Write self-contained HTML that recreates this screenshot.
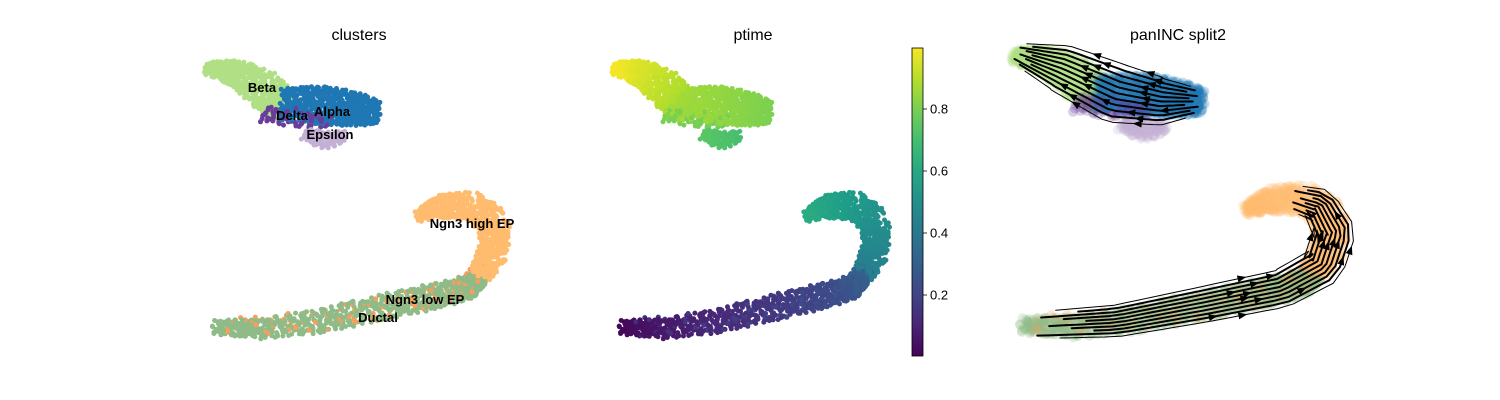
<!DOCTYPE html>
<html><head><meta charset="utf-8"><style>
body{margin:0;background:#fff;}
svg{display:block;font-family:"Liberation Sans","DejaVu Sans",sans-serif;}
</style></head><body>
<svg id="chart" width="1500" height="400" viewBox="0 0 1500 400">
<text x="359" y="40" font-size="16" text-anchor="middle">clusters</text>
<text x="753" y="40" font-size="16" text-anchor="middle">ptime</text>
<text x="1178" y="40" font-size="16" text-anchor="middle">panINC split2</text>
<g id="p1"></g>
<g id="p2"></g>
<g id="p3"></g>
<g id="cbar"></g>
</svg>
<script>
// ---- data: cluster names, colors, spine nodes [x,y,halfwidth] in embedding units, point counts, ptime ranges
const clusterNames = ["Ductal","Ngn3 low EP","Ngn3 high EP","Beta","Alpha","Delta","Epsilon"];
const clusterColors = ["#8fbb88","#f4a05c","#ffbb6e","#b0df85","#1f77b4","#6a3d9a","#c5b0d5"];
const spineDuctal = [[214,327,7],[260,329,10],[320,321,12],[380,308,13],[430,297,13],[465,289,12],[482,278,8]];
const spineLowEP = [[220,327,9],[320,321,11],[400,305,12],[455,291,11],[476,278,11],[486,266,8]];
const spineHighEP = [[418,216,5],[440,207,12],[470,205,14],[494,222,16],[494,250,15],[480,275,12]];
const spineBeta = [[207,68,6],[238,74,14],[268,92,20],[288,112,14]];
const spineAlpha = [[282,104,16],[318,105,19],[348,108,18],[378,113,12]];
const spineDelta = [[262,114,8],[298,118,10],[330,122,6]];
const spineEpsilon = [[305,134,6],[325,141,9],[345,136,5]];
const pointCounts = [700,170,600,550,600,80,110];
const ptimeStart = [0.02,0.12,0.62,0.99,0.86,0.80,0.74];
const ptimeEnd = [0.30,0.35,0.42,0.84,0.80,0.78,0.70];
const cbarTicks = [0.2,0.4,0.6,0.8];
const spines = [spineDuctal,spineLowEP,spineHighEP,spineBeta,spineAlpha,spineDelta,spineEpsilon];
const labelPos = [[378,317],[425,299],[472,223],[262,87],[332,111],[292,115],[330,134]];
// streamline backbones for velocity panel
const streamBottom = [[213,328,13],[300,323,16],[380,307,18],[450,292,19],[488,270,20],[498,238,20],[485,212,17],[455,203,12]];
const streamTop = [[205,64,9],[250,80,24],[300,104,30],[340,112,24],[378,112,12]];

// ---- axis functions per panel
const px = [x=>x, x=>608+(x-200)*0.91, x=>1012+(x-205)*1.1];
const py = [y=>y, y=>y, y=>y*1.04-15];
const NS="http://www.w3.org/2000/svg";
function mk(t,a,p){const e=document.createElementNS(NS,t);for(const k in a)e.setAttribute(k,a[k]);p.appendChild(e);return e;}
function halton(i,b){let f=1,r=0;while(i>0){f/=b;r+=f*(i%b);i=Math.floor(i/b);}return r;}
function spineAt(sp,t){const n=sp.length-1;let u=t*n;let i=Math.min(Math.floor(u),n-1);let f=u-i;
 const a=sp[i],b=sp[i+1];const x=a[0]+(b[0]-a[0])*f,y=a[1]+(b[1]-a[1])*f,w=a[2]+(b[2]-a[2])*f;
 let dx=b[0]-a[0],dy=b[1]-a[1];const L=Math.hypot(dx,dy)||1;return {x,y,w,nx:-dy/L,ny:dx/L,tx:dx/L,ty:dy/L};}
const vir=[[68,1,84],[72,40,120],[62,74,137],[49,104,142],[38,130,142],[31,158,137],[53,183,121],[109,205,89],[180,222,44],[253,231,37]];
function viridis(v){v=Math.max(0,Math.min(1,v));const u=v*(vir.length-1);const i=Math.min(Math.floor(u),vir.length-2);const f=u-i;
 const c=vir[i].map((a,k)=>Math.round(a+(vir[i+1][k]-a)*f));return `rgb(${c[0]},${c[1]},${c[2]})`;}

// generate points
const pts=[];let idx=0;
spines.forEach((sp,ci)=>{for(let i=1;i<=pointCounts[ci];i++){idx++;const t=halton(i,2),s=halton(i,3)*2-1,j=halton(i,5)*2-1;
 const q=spineAt(sp,t);const x=q.x+q.nx*s*q.w+q.tx*j*4,y=q.y+q.ny*s*q.w+q.ty*j*4;
 pts.push({x,y,ci,pt:ptimeStart[ci]+(ptimeEnd[ci]-ptimeStart[ci])*t,key:(ci<=1?halton(idx,7):(ci===5?4.6-halton(idx,7)*1.4:ci))});}});
pts.sort((a,b)=>a.key-b.key);

const g1=document.getElementById('p1'),g2=document.getElementById('p2'),g3=document.getElementById('p3');
pts.forEach(p=>{
 const c3=mk('circle',{cx:px[2](p.x).toFixed(1),cy:py[2](p.y).toFixed(1),r:5,fill:clusterColors[p.ci],'fill-opacity':0.25},g3);
 
 
});
pts.forEach(p=>{
 const c1=mk('circle',{cx:px[0](p.x).toFixed(1),cy:py[0](p.y).toFixed(1),r:2.5,fill:clusterColors[p.ci]},g1);
 
 
});
pts.slice().sort((a,b)=>halton(Math.round(a.x*13+a.y*7),3)-halton(Math.round(b.x*13+b.y*7),3)).forEach(p=>{
 const c2=mk('circle',{cx:px[1](p.x).toFixed(1),cy:py[1](p.y).toFixed(1),r:2.5,fill:viridis(p.pt)},g2);
 
 
});
// cluster labels
clusterNames.forEach((n,i)=>{const t=mk('text',{x:labelPos[i][0],y:labelPos[i][1]+5,'font-size':13,'font-weight':'bold','text-anchor':'middle',fill:'#000'},g1);
 t.textContent=n;
 
 });

// streamlines
function streams(sp,nLines,dir){for(let k=0;k<nLines;k++){const off=-0.95+1.9*k/(nLines-1);let d='';const N=40;
 const t0=0.02+0.1*halton(k+1,3),t1=0.98-0.1*halton(k+1,2);
 const P=[];for(let i=0;i<=N;i++){const t=t0+(t1-t0)*i/N;const q=spineAt(sp,t);const x=q.x+q.nx*off*q.w,y=q.y+q.ny*off*q.w;P.push([px[2](x),py[2](y)]);
 d+=(i?'L':'M')+P[i][0].toFixed(1)+','+P[i][1].toFixed(1);}
 const l=mk('path',{d,fill:'none',stroke:'#000','stroke-width':(Math.abs(off)>0.85?1:2),'stroke-linecap':'round'},g3);
 
 
 for(const fr of [0.3,0.65]){const m=Math.floor(N*(fr+0.15*halton(k+2,5)));const a=P[m],b=P[m+dir];const ang=Math.atan2(b[1]-a[1],b[0]-a[0]);
 const ax=a[0],ay=a[1];const h=`${ax+6*Math.cos(ang)},${ay+6*Math.sin(ang)} ${ax-3*Math.cos(ang)+3.5*Math.sin(ang)},${ay-3*Math.sin(ang)-3.5*Math.cos(ang)} ${ax-3*Math.cos(ang)-3.5*Math.sin(ang)},${ay-3*Math.sin(ang)+3.5*Math.cos(ang)}`;
 const ar=mk('polygon',{points:h,fill:'#000'},g3);
 
 }}}
streams(streamBottom,10,1);
streams(streamTop,11,-1);

// colorbar
const cb=document.getElementById('cbar');
const cbY=v=>357-(v-0.0)*310/1.0;
const defs=mk('defs',{},cb);const lg=mk('linearGradient',{id:'vg',x1:0,y1:1,x2:0,y2:0},defs);
for(let i=0;i<=10;i++)mk('stop',{offset:i/10,'stop-color':viridis(0.005+i/10*0.985)},lg);
const rect=mk('rect',{x:912,y:48,width:11,height:308,fill:'url(#vg)',stroke:'#000','stroke-width':0.8},cb);


cbarTicks.forEach(v=>{const y=cbY(v);mk('line',{x1:923,y1:y,x2:927,y2:y,stroke:'#000','stroke-width':0.8},cb);
 const t=mk('text',{x:930,y:y+4.5,'font-size':13},cb);t.textContent=v.toFixed(1);
 
 });
</script>
</body></html>
